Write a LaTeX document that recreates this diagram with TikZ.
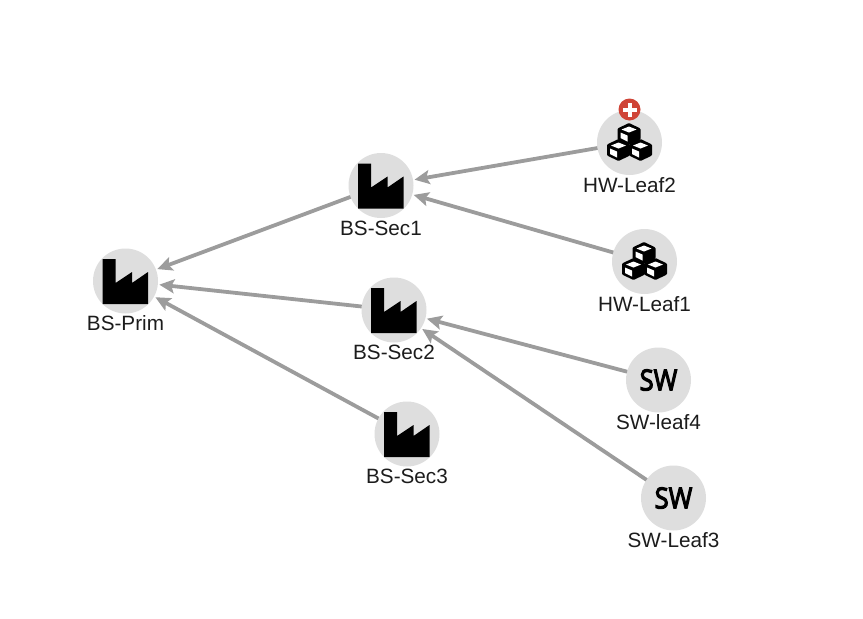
\documentclass[tikz,border=0pt]{standalone}
\usepackage{fontspec}
\setmainfont{Liberation Sans}
\newfontfamily\iconfont[FakeBold=4]{Open Sans}
\usepackage{tikz}
\usetikzlibrary{arrows.meta,positioning}
\definecolor{HubDisc}{HTML}{DEDEDE}
\definecolor{LinkGrey}{HTML}{9C9C9C}
\definecolor{LabelInk}{HTML}{1C1C1C}
\definecolor{BadgeRed}{HTML}{CF4437}
\tikzset{
  hub/.style={circle,fill=HubDisc,minimum size=65pt,inner sep=0pt,outer sep=0pt},
  hublabel/.style={text=LabelInk,font=\fontsize{20.7}{24}\selectfont,inner sep=0pt,text height=15pt,text depth=1pt},
  link/.style={LinkGrey,line width=3.8pt,-{Stealth[length=15pt,width=14pt,inset=3pt]},shorten >=1.5pt},
  swmark/.style={font=\iconfont\fontsize{29}{30}\selectfont,text=black,inner sep=0pt,xscale=0.88},
  factory/.pic={
    \fill[black] (-23,-22) -- (-10,-22) -- (-10,2) -- (6.5,-9) -- (6.5,2) -- (22.5,-9) -- (22.5,23) -- (-23,23) -- cycle;
  },
  cube/.pic={
    \fill[black,rounded corners=1pt] (0,-11) -- (11.5,-5.5) -- (11.5,5.5) -- (0,11) -- (-11.5,5.5) -- (-11.5,-5.5) -- cycle;
    \fill[white] (0,-7.5) -- (7.5,-4.5) -- (0,-1.5) -- (-7.5,-4.5) -- cycle;
    \fill[white] (-8.5,-1.5) -- (-1.5,1.5) -- (-1.5,7.5) -- (-8.5,4) -- cycle;
  },
  cubes/.pic={
    \pic at (-0.5,-8.5) {cube};
    \pic at (-11,7.5) {cube};
    \pic at (11,7.5) {cube};
  }
}
\begin{document}
\begin{tikzpicture}[x=1pt,y=-1pt]
  \useasboundingbox (0,0) rectangle (863,619);
  % discs
  \node[hub] (prim) at (125.5,281) {};
  \node[hub] (sec1) at (381,185.5) {};
  \node[hub] (sec2) at (394,310) {};
  \node[hub] (sec3) at (407,434) {};
  \node[hub] (leaf2) at (629.5,142.5) {};
  \node[hub] (leaf1) at (644.5,261.5) {};
  \node[hub] (leaf4) at (658.5,380) {};
  \node[hub] (leaf3) at (673.5,498) {};
  % links
  \draw[link] (sec1) -- (prim);
  \draw[link] (sec2) -- (prim);
  \draw[link] (sec3) -- (prim);
  \draw[link] (leaf2) -- (sec1);
  \draw[link] (leaf1) -- (sec1);
  \draw[link] (leaf4) -- (sec2);
  \draw[link] (leaf3) -- (sec2);
  % icons
  \pic at (prim) {factory};
  \pic at (sec1) {factory};
  \pic at (sec2) {factory};
  \pic at (sec3) {factory};
  \pic at (leaf2) {cubes};
  \pic at (leaf1) {cubes};
  \node[swmark] (swleaf4) at (leaf4) {SW};
  \node[swmark] (swleaf3) at (leaf3) {SW};
  % badge
  \node[circle,fill=BadgeRed,minimum size=22pt,inner sep=0pt] (badge) at (629.5,109.5) {};
  \fill[white] ([xshift=-7pt,yshift=-2pt]badge.center) rectangle ([xshift=7pt,yshift=2pt]badge.center);
  \fill[white] ([xshift=-2pt,yshift=-7pt]badge.center) rectangle ([xshift=2pt,yshift=7pt]badge.center);
  % labels
  \node[hublabel,below=2pt of prim] (primlabel) {BS-Prim};
  \node[hublabel,below=2pt of sec1] (sec1label) {BS-Sec1};
  \node[hublabel,below=2pt of sec2] (sec2label) {BS-Sec2};
  \node[hublabel,below=2pt of sec3] (sec3label) {BS-Sec3};
  \node[hublabel,below=2pt of leaf2] (leaf2label) {HW-Leaf2};
  \node[hublabel,below=2pt of leaf1] (leaf1label) {HW-Leaf1};
  \node[hublabel,below=2pt of leaf4] (leaf4label) {SW-leaf4};
  \node[hublabel,below=2pt of leaf3] (leaf3label) {SW-Leaf3};
\end{tikzpicture}
\end{document}
